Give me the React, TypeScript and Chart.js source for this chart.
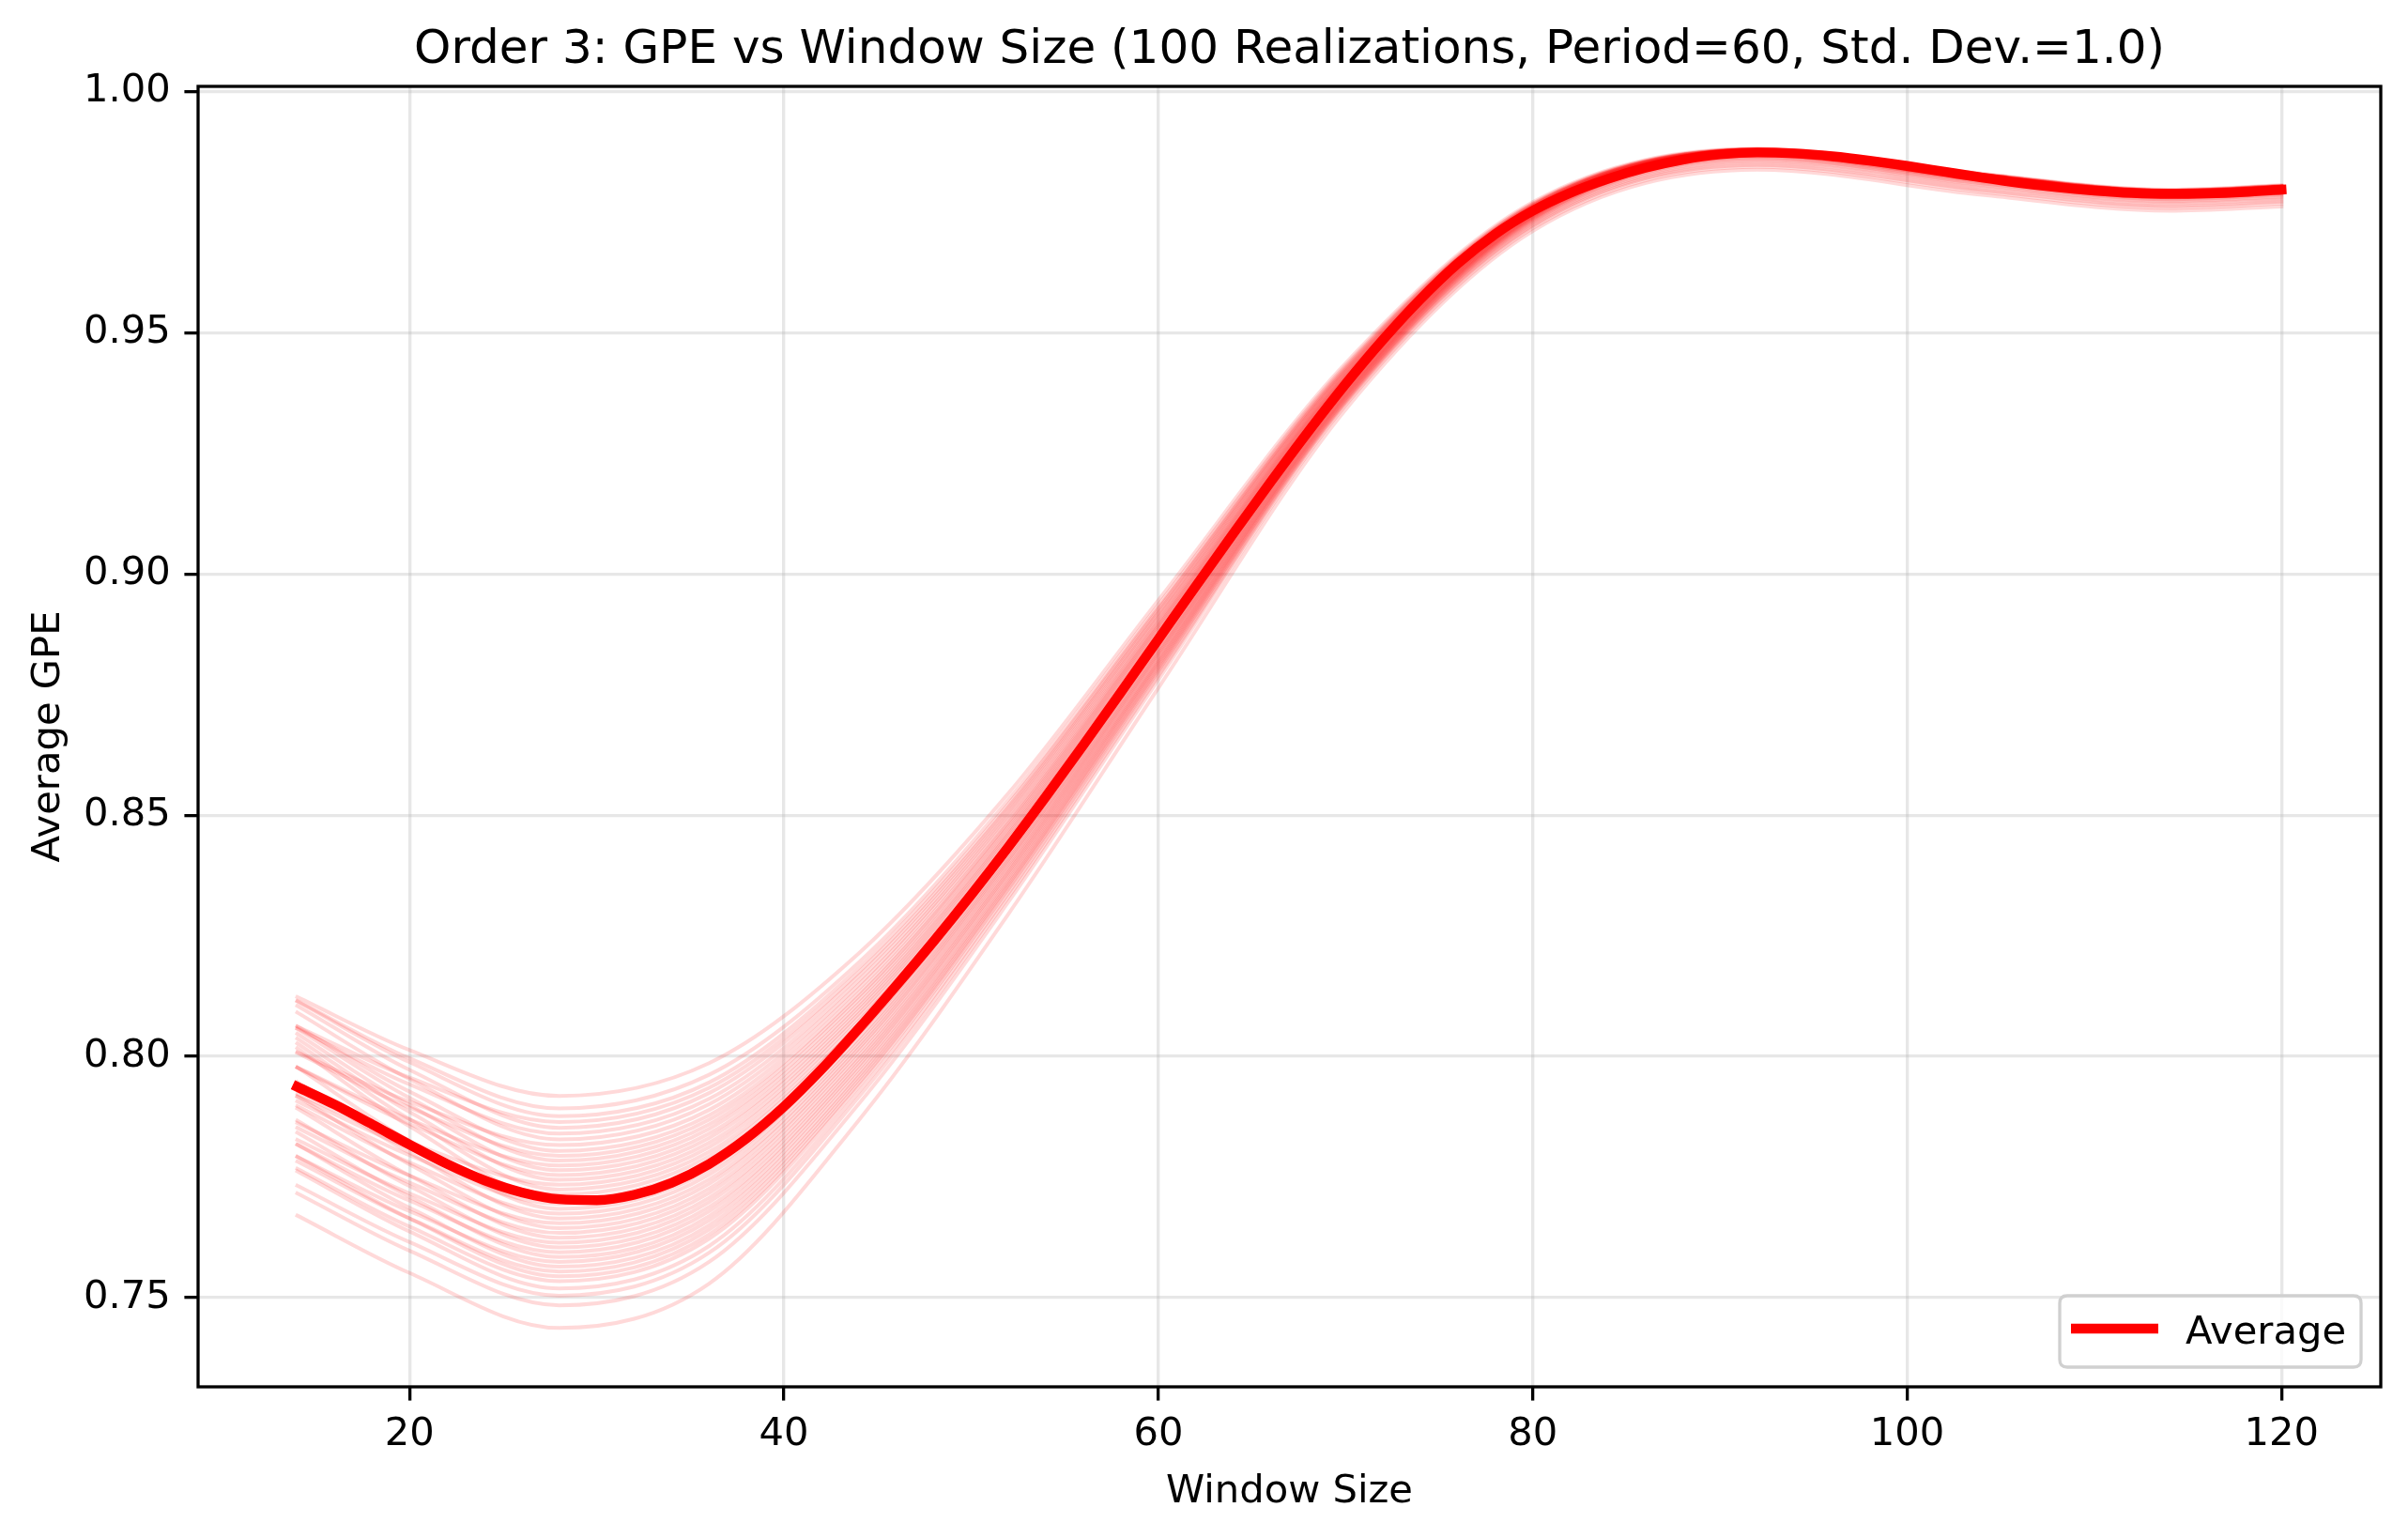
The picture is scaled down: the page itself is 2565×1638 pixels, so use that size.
import React, { useEffect, useRef } from 'react';
import { Chart, registerables } from 'chart.js';

Chart.register(...registerables);

const W = 2565;
const H = 1638;

const TITLE = 'Order 3: GPE vs Window Size (100 Realizations, Period=60, Std. Dev.=1.0)';
const X_LABEL = 'Window Size';
const Y_LABEL = 'Average GPE';
const LEGEND_LABEL = 'Average';

const X_TICKS = [20, 40, 60, 80, 100, 120];
const Y_TICKS = [0.75, 0.8, 0.85, 0.9, 0.95, 1.0];

// Average curve (window sizes every 2)
const AVG_X = [
  14, 16, 18, 20, 22, 24, 26, 28, 30, 32, 34, 36, 38, 40, 42, 44, 46, 48, 50, 52, 54, 56, 58, 60, 62, 64, 66,
  68, 70, 72, 74, 76, 78, 80, 82, 84, 86, 88, 90, 92, 94, 96, 98, 100, 102, 104, 106, 108, 110, 112, 114, 116, 118, 120,
];
const AVG_Y = [
  0.7937, 0.79, 0.7859, 0.7817, 0.7777, 0.7743, 0.7718, 0.7704, 0.7702, 0.7713, 0.7738, 0.7777, 0.783, 0.7896,
  0.7973, 0.8058, 0.8147, 0.8239, 0.8335, 0.8435, 0.8539, 0.8646, 0.8755, 0.8865, 0.8975, 0.9084, 0.9191, 0.9295,
  0.9394, 0.9486, 0.957, 0.9644, 0.9705, 0.9753, 0.979, 0.9819, 0.9842, 0.9859, 0.987, 0.9874, 0.9872, 0.9866,
  0.9857, 0.9846, 0.9834, 0.9822, 0.9811, 0.9802, 0.9795, 0.979, 0.9788, 0.9789, 0.9792, 0.9797,
];

// Individual realizations, sampled at these window sizes
const REAL_X = [14, 20, 28, 36, 44, 52, 60, 70, 80, 92, 104, 114, 120];
const REALIZATIONS = [
  [0.8123, 0.8013, 0.7918, 0.7986, 0.8214, 0.8546, 0.8946, 0.9437, 0.9771, 0.9882, 0.983, 0.9797, 0.9806],
  [0.8115, 0.7996, 0.7892, 0.7962, 0.8195, 0.8533, 0.8936, 0.9432, 0.9768, 0.988, 0.9828, 0.9795, 0.9804],
  [0.8114, 0.7988, 0.7876, 0.7946, 0.8184, 0.8524, 0.893, 0.9428, 0.9767, 0.9881, 0.9829, 0.9796, 0.9805],
  [0.8062, 0.7956, 0.7864, 0.7935, 0.8175, 0.8518, 0.8926, 0.9426, 0.9765, 0.9879, 0.9827, 0.9794, 0.9803],
  [0.8105, 0.7972, 0.7852, 0.7924, 0.8167, 0.8512, 0.8921, 0.9424, 0.9765, 0.988, 0.9828, 0.9795, 0.9804],
  [0.8058, 0.7942, 0.784, 0.7912, 0.8158, 0.8506, 0.8917, 0.9421, 0.9763, 0.9878, 0.9826, 0.9793, 0.9802],
  [0.8091, 0.7953, 0.7828, 0.7901, 0.8149, 0.85, 0.8912, 0.9419, 0.9763, 0.988, 0.9828, 0.9795, 0.9804],
  [0.8009, 0.7906, 0.7816, 0.7889, 0.8141, 0.8493, 0.8908, 0.9416, 0.9762, 0.9879, 0.9827, 0.9794, 0.9803],
  [0.8062, 0.7927, 0.7804, 0.7878, 0.8132, 0.8487, 0.8903, 0.9414, 0.976, 0.9878, 0.9826, 0.9793, 0.9802],
  [0.8007, 0.7894, 0.7794, 0.7869, 0.8125, 0.8482, 0.8899, 0.9412, 0.976, 0.988, 0.9828, 0.9795, 0.9804],
  [0.8057, 0.7914, 0.7784, 0.7859, 0.8118, 0.8477, 0.8895, 0.941, 0.9758, 0.9877, 0.9825, 0.9792, 0.9801],
  [0.7977, 0.7869, 0.7774, 0.785, 0.811, 0.8471, 0.8892, 0.9408, 0.9758, 0.9879, 0.9827, 0.9794, 0.9803],
  [0.8047, 0.7899, 0.7764, 0.784, 0.8103, 0.8466, 0.8888, 0.9406, 0.9757, 0.9878, 0.9826, 0.9793, 0.9802],
  [0.7977, 0.786, 0.7754, 0.7831, 0.8096, 0.8461, 0.8884, 0.9404, 0.9755, 0.9876, 0.9824, 0.9791, 0.98],
  [0.8037, 0.7885, 0.7744, 0.7821, 0.8089, 0.8456, 0.888, 0.9402, 0.9755, 0.9878, 0.9826, 0.9793, 0.9802],
  [0.7922, 0.7822, 0.7734, 0.7812, 0.8082, 0.8451, 0.8876, 0.94, 0.9754, 0.9877, 0.9825, 0.9792, 0.9801],
  [0.8027, 0.787, 0.7724, 0.7802, 0.8074, 0.8445, 0.8873, 0.9398, 0.9752, 0.9875, 0.9823, 0.979, 0.9799],
  [0.7917, 0.781, 0.7714, 0.7793, 0.8067, 0.844, 0.8869, 0.9396, 0.9752, 0.9877, 0.9825, 0.9792, 0.9801],
  [0.8017, 0.7855, 0.7704, 0.7783, 0.806, 0.8435, 0.8865, 0.9394, 0.9751, 0.9876, 0.9824, 0.9791, 0.98],
  [0.7907, 0.7795, 0.7694, 0.7774, 0.8053, 0.843, 0.8861, 0.9392, 0.975, 0.9875, 0.9823, 0.979, 0.9799],
  [0.7977, 0.7825, 0.7684, 0.7764, 0.8046, 0.8425, 0.8857, 0.939, 0.9748, 0.9874, 0.9822, 0.9789, 0.9798],
  [0.7897, 0.778, 0.7674, 0.7755, 0.8038, 0.8419, 0.8854, 0.9388, 0.9749, 0.9876, 0.9824, 0.9791, 0.98],
  [0.7947, 0.78, 0.7664, 0.7745, 0.8031, 0.8414, 0.885, 0.9386, 0.9746, 0.9873, 0.9821, 0.9788, 0.9797],
  [0.7862, 0.7753, 0.7654, 0.7736, 0.8024, 0.8409, 0.8846, 0.9384, 0.9747, 0.9875, 0.9823, 0.979, 0.9799],
  [0.7917, 0.7776, 0.7644, 0.7726, 0.8017, 0.8404, 0.8842, 0.9382, 0.9744, 0.9872, 0.982, 0.9787, 0.9796],
  [0.7852, 0.7738, 0.7634, 0.7717, 0.801, 0.8399, 0.8838, 0.938, 0.9744, 0.9874, 0.9822, 0.9789, 0.9798],
  [0.7892, 0.7753, 0.7624, 0.7707, 0.8002, 0.8393, 0.8835, 0.9378, 0.9742, 0.9871, 0.9819, 0.9786, 0.9795],
  [0.7827, 0.7716, 0.7614, 0.7698, 0.7995, 0.8388, 0.8831, 0.9376, 0.9742, 0.9872, 0.982, 0.9787, 0.9796],
  [0.7867, 0.7731, 0.7604, 0.7688, 0.7988, 0.8383, 0.8827, 0.9374, 0.974, 0.987, 0.9818, 0.9785, 0.9794],
  [0.7817, 0.7701, 0.7594, 0.7679, 0.7981, 0.8378, 0.8823, 0.9372, 0.9739, 0.9869, 0.9817, 0.9784, 0.9793],
  [0.7842, 0.7709, 0.7584, 0.7669, 0.7974, 0.8373, 0.8819, 0.937, 0.9737, 0.9868, 0.9816, 0.9783, 0.9792],
  [0.7792, 0.7679, 0.7574, 0.766, 0.7966, 0.8367, 0.8816, 0.9368, 0.9736, 0.9866, 0.9814, 0.9781, 0.979],
  [0.7817, 0.7686, 0.7564, 0.765, 0.7959, 0.8362, 0.8812, 0.9366, 0.9734, 0.9864, 0.9812, 0.9779, 0.9788],
  [0.7782, 0.7664, 0.7554, 0.7641, 0.7952, 0.8357, 0.8808, 0.9364, 0.9732, 0.9862, 0.981, 0.9777, 0.9786],
  [0.7792, 0.7664, 0.7544, 0.7631, 0.7945, 0.8352, 0.8804, 0.9362, 0.973, 0.9859, 0.9807, 0.9774, 0.9783],
  [0.7767, 0.7647, 0.7534, 0.7622, 0.7938, 0.8347, 0.88, 0.936, 0.9727, 0.9856, 0.9804, 0.9771, 0.978],
  [0.7762, 0.7637, 0.7519, 0.7607, 0.7927, 0.8339, 0.8795, 0.9357, 0.9724, 0.9852, 0.98, 0.9767, 0.9776],
  [0.7732, 0.7615, 0.7504, 0.7593, 0.7916, 0.8331, 0.8789, 0.9354, 0.9721, 0.9848, 0.9796, 0.9763, 0.9772],
  [0.7716, 0.7597, 0.7484, 0.7574, 0.7902, 0.8321, 0.8781, 0.935, 0.9717, 0.9844, 0.9792, 0.9759, 0.9768],
  [0.767, 0.7551, 0.7437, 0.7529, 0.7868, 0.8296, 0.8764, 0.9341, 0.9711, 0.9838, 0.9786, 0.9753, 0.9762],
];

const FONT = '"DejaVu Sans", "Liberation Sans", sans-serif';

const decorPlugin = {
  id: 'decor',
  afterDraw(chart: any) {
    const { ctx, chartArea: a } = chart;
    ctx.save();
    // axes frame (all four spines)
    ctx.strokeStyle = '#000';
    ctx.lineWidth = 3.3;
    ctx.strokeRect(a.left, a.top, a.right - a.left, a.bottom - a.top);

    const cx = (a.left + a.right) / 2;
    const cy = (a.top + a.bottom) / 2;
    ctx.fillStyle = '#000';
    ctx.textAlign = 'center';
    ctx.textBaseline = 'alphabetic';

    // title
    ctx.font = `50px ${FONT}`;
    ctx.fillText(TITLE, cx, a.top - 25);

    // x axis label
    ctx.font = `41.67px ${FONT}`;
    ctx.fillText(X_LABEL, cx, 1600);

    // y axis label
    ctx.save();
    ctx.translate(63, cy);
    ctx.rotate(-Math.PI / 2);
    ctx.fillText(Y_LABEL, 0, 0);
    ctx.restore();

    // legend (lower right)
    const lw = 321;
    const lh = 76;
    const lx = a.right - 21 - lw;
    const ly = a.bottom - 21 - lh;
    const r = 8;
    ctx.beginPath();
    ctx.moveTo(lx + r, ly);
    ctx.lineTo(lx + lw - r, ly);
    ctx.quadraticCurveTo(lx + lw, ly, lx + lw, ly + r);
    ctx.lineTo(lx + lw, ly + lh - r);
    ctx.quadraticCurveTo(lx + lw, ly + lh, lx + lw - r, ly + lh);
    ctx.lineTo(lx + r, ly + lh);
    ctx.quadraticCurveTo(lx, ly + lh, lx, ly + lh - r);
    ctx.lineTo(lx, ly + r);
    ctx.quadraticCurveTo(lx, ly, lx + r, ly);
    ctx.closePath();
    ctx.fillStyle = 'rgba(255,255,255,0.8)';
    ctx.fill();
    ctx.strokeStyle = '#d0d0d0';
    ctx.lineWidth = 3.3;
    ctx.stroke();

    ctx.beginPath();
    ctx.strokeStyle = '#ff0000';
    ctx.lineWidth = 10.4;
    ctx.lineCap = 'butt';
    ctx.moveTo(lx + 12, ly + 35);
    ctx.lineTo(lx + 105, ly + 35);
    ctx.stroke();

    ctx.fillStyle = '#000';
    ctx.textAlign = 'left';
    ctx.font = `41.67px ${FONT}`;
    ctx.fillText(LEGEND_LABEL, lx + 134, ly + 51);
    ctx.restore();
  },
};

export default function App() {
  const ref = useRef<HTMLCanvasElement>(null);

  useEffect(() => {
    const canvas = ref.current;
    if (!canvas) return;

    const realSets = REALIZATIONS.map((vals, k) => ({
      label: `r${k}`,
      data: vals.map((v, i) => ({ x: REAL_X[i], y: v })),
      borderColor: 'rgba(255,0,0,0.15)',
      borderWidth: 4,
      pointRadius: 0,
      cubicInterpolationMode: 'monotone' as const,
      borderCapStyle: 'square' as const,
      order: 1,
    }));

    const avgSet = {
      label: LEGEND_LABEL,
      data: AVG_X.map((x, i) => ({ x, y: AVG_Y[i] })),
      borderColor: '#ff0000',
      borderWidth: 10.4,
      pointRadius: 0,
      cubicInterpolationMode: 'monotone' as const,
      borderCapStyle: 'square' as const,
      order: 0,
    };

    const gridOpts = {
      color: 'rgba(176,176,176,0.3)',
      lineWidth: 3.3,
      tickColor: '#000',
      tickLength: 14.6,
      tickWidth: 3.3,
      drawTicks: true,
    };

    const chart = new Chart(canvas, {
      type: 'line',
      data: { datasets: [avgSet, ...realSets] as any },
      options: {
        animation: false,
        responsive: false,
        devicePixelRatio: 1,
        events: [],
        layout: { padding: { top: 92, right: 29, left: 0, bottom: 0 } },
        plugins: {
          legend: { display: false },
          title: { display: false },
          tooltip: { enabled: false },
        },
        scales: {
          x: {
            type: 'linear',
            min: 8.7,
            max: 125.3,
            afterBuildTicks: (s: any) => {
              s.ticks = X_TICKS.map((v) => ({ value: v }));
            },
            afterFit: (s: any) => {
              s.height = 161;
            },
            grid: gridOpts,
            border: { display: false },
            ticks: {
              font: { family: FONT, size: 41.67 },
              color: '#000',
              padding: 12,
              maxRotation: 0,
              autoSkip: false,
              callback: (v: any) => String(v),
            },
          },
          y: {
            type: 'linear',
            min: 0.7315,
            max: 1.0011,
            afterBuildTicks: (s: any) => {
              s.ticks = Y_TICKS.map((v) => ({ value: v }));
            },
            afterFit: (s: any) => {
              s.width = 211;
            },
            grid: gridOpts,
            border: { display: false },
            ticks: {
              font: { family: FONT, size: 41.67 },
              color: '#000',
              padding: 14.6,
              autoSkip: false,
              callback: (v: any) => Number(v).toFixed(2),
            },
          },
        },
      },
      plugins: [decorPlugin],
    });

    return () => chart.destroy();
  }, []);

  return (
    <div style={{ position: 'fixed', left: 0, top: 0, width: W, height: H, background: '#fff' }}>
      <canvas ref={ref} width={W} height={H} style={{ display: 'block', width: W, height: H }} />
    </div>
  );
}
